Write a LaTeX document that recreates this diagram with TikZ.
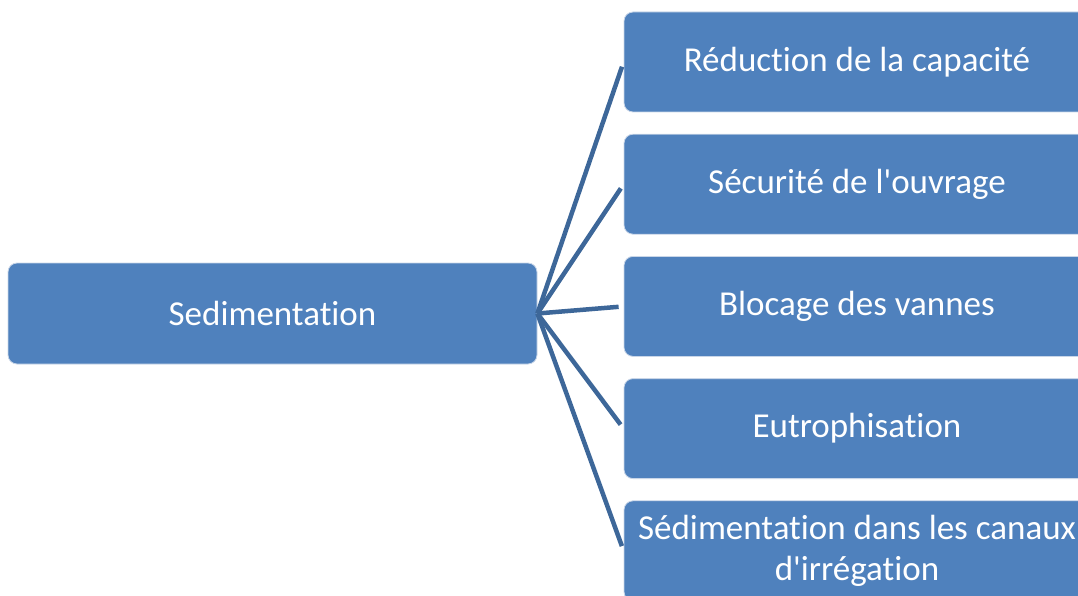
\documentclass[tikz,border=0pt]{standalone}
\usepackage{fontspec}
\setmainfont{Carlito}[Ligatures=NoCommon]
\usepackage{xcolor}
\usetikzlibrary{positioning}
\definecolor{boxblue}{HTML}{4F81BD}
\definecolor{boxrim}{HTML}{C9D6E8}
\definecolor{linkblue}{HTML}{3D6799}
\tikzstyle{topic} = [rectangle, rounded corners=9pt, minimum width=529pt, minimum height=101pt, text centered, draw=boxrim, line width=0.8pt, fill=boxblue, text=white, font=\fontsize{35}{41}\selectfont]
\tikzstyle{effect} = [rectangle, rounded corners=9pt, minimum width=466pt, minimum height=100pt, align=center, draw=boxrim, line width=0.8pt, fill=boxblue, text=white, inner xsep=2pt, font=\fontsize{35}{41}\selectfont]
\tikzstyle{link} = [line width=4.5pt, draw=linkblue, shorten >=5pt]

\begin{document}
\begin{tikzpicture}[x=1pt, y=-1pt, node distance=122.2pt]
    \useasboundingbox (0,0) rectangle (1078,596);

    % Bloc principal
    \node (sed) [topic] at (272.5,313.5) {Sedimentation};

    % Consequences
    \node (cap) [effect] at (857,62) {Réduction de la capacité};
    \node (secu) [effect, below of=cap] {Sécurité de l\textquotesingle ouvrage};
    \node (vannes) [effect, below of=secu] {Blocage des vannes};
    \node (eutro) [effect, below of=vannes] {Eutrophisation};
    \node (canaux) [effect, below of=eutro] {Sédimentation dans les canaux\\d\textquotesingle irrégation};

    % Liaisons
    \draw [link] (sed.east) -- (cap.west);
    \draw [link] (sed.east) -- (secu.west);
    \draw [link] (sed.east) -- (vannes.west);
    \draw [link] (sed.east) -- (eutro.west);
    \draw [link] (sed.east) -- (canaux.west);

\end{tikzpicture}
\end{document}
